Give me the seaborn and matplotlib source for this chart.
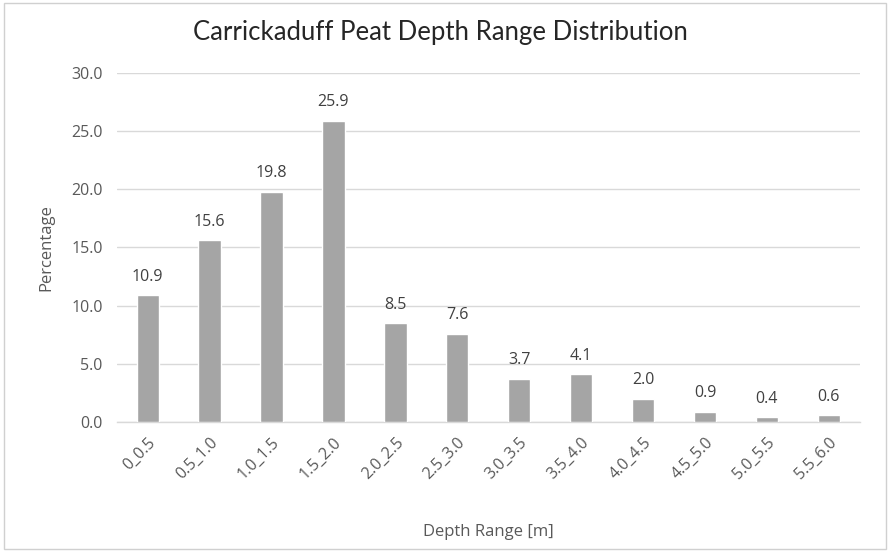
import matplotlib
matplotlib.use("Agg")
import matplotlib.pyplot as plt
import matplotlib.patches as mpatches
import seaborn as sns
import pandas as pd

depth_ranges = ["0_0.5", "0.5_1.0", "1.0_1.5", "1.5_2.0", "2.0_2.5", "2.5_3.0",
                "3.0_3.5", "3.5_4.0", "4.0_4.5", "4.5_5.0", "5.0_5.5", "5.5_6.0"]
percentages = [10.9, 15.6, 19.8, 25.9, 8.5, 7.6, 3.7, 4.1, 2.0, 0.9, 0.4, 0.6]
y_ticks = [0, 5, 10, 15, 20, 25, 30]

df = pd.DataFrame({"Depth Range": depth_ranges, "Percentage": percentages})

sns.set_theme(style="white")
plt.rcParams["font.family"] = ["Open Sans", "DejaVu Sans"]

text_color = "#595959"
fig = plt.figure(figsize=(8.91, 5.52), dpi=100)
ax = fig.add_axes([0.131, 0.2355, 0.834, 0.6325])

sns.barplot(data=df, x="Depth Range", y="Percentage", color="#A5A5A5",
            width=0.36, saturation=1, ax=ax, zorder=3)

for i, v in enumerate(percentages):
    ax.text(i, v + 0.9, f"{v:.1f}", ha="center", va="bottom",
            fontsize=11.5, color="#404040")

ax.set_ylim(0, 30)
ax.set_xlim(-0.5, len(depth_ranges) - 0.5)
ax.set_yticks(y_ticks)
ax.set_yticklabels([f"{t:.1f}" for t in y_ticks], fontsize=11.5, color=text_color)
ax.set_xticks(range(len(depth_ranges)))
ax.set_xticklabels(depth_ranges, rotation=45, ha="right", rotation_mode="anchor",
                   fontsize=11.5, color=text_color)
ax.tick_params(axis="y", length=0, pad=10)
ax.tick_params(axis="x", length=0, pad=9)
ax.yaxis.grid(True, color="#D9D9D9", linewidth=1, zorder=0)
ax.xaxis.grid(False)
for s in ["top", "right", "left"]:
    ax.spines[s].set_visible(False)
ax.spines["bottom"].set_color("#D9D9D9")
ax.spines["bottom"].set_linewidth(1)

ax.set_xlabel("Depth Range [m]", fontsize=12, color=text_color, labelpad=30)
ax.set_ylabel("Percentage", fontsize=12, color=text_color, labelpad=12)

fig.text(0.494, 0.942, "Carrickaduff Peat Depth Range Distribution",
         ha="center", va="center", fontsize=18.5, color="#262626",
         family=["Lato", "DejaVu Sans"])

fig.patches.append(mpatches.Rectangle((0.004, 0.006), 0.99, 0.988,
                                      transform=fig.transFigure, fill=False,
                                      edgecolor="#D0D0D0", linewidth=1))

fig.savefig("out.png", dpi=100)
